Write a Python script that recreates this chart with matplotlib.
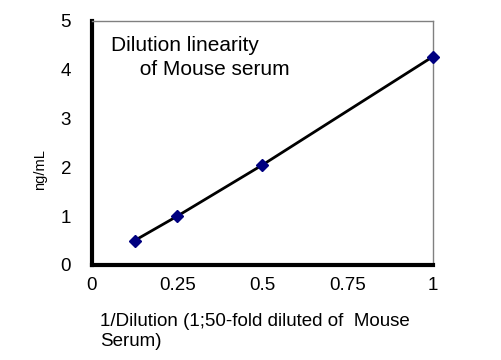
import matplotlib.pyplot as plt

plt.rcParams['font.family'] = ['Liberation Sans', 'DejaVu Sans']

dilution = [0.125, 0.25, 0.5, 1.0]
conc = [0.5, 1.0, 2.05, 4.27]
xticks = [0, 0.25, 0.5, 0.75, 1]
xtick_labels = ['0', '0.25', '0.5', '0.75', '1']
yticks = [0, 1, 2, 3, 4, 5]

fig = plt.figure(figsize=(5.01, 3.6), dpi=100)
ax = fig.add_axes([0.1836, 0.264, 0.6806, 0.6778])

ax.plot(dilution, conc, color='black', lw=2, marker='D', ms=6,
        mfc='#000080', mec='#000080', zorder=3, clip_on=False)

ax.set_xlim(0, 1)
ax.set_ylim(0, 5)
ax.set_xticks(xticks)
ax.set_xticklabels(xtick_labels)
ax.set_yticks(yticks)
ax.tick_params(length=0, labelsize=13.5, colors='black')
ax.tick_params(axis='x', pad=9)
ax.tick_params(axis='y', pad=15)

for s in ['top', 'right']:
    ax.spines[s].set_color('#808080')
    ax.spines[s].set_linewidth(1)
for s in ['left', 'bottom']:
    ax.spines[s].set_color('black')
    ax.spines[s].set_linewidth(3)

ax.text(0.055, 0.94, 'Dilution linearity\n     of Mouse serum', transform=ax.transAxes,
        fontsize=15, va='top', ha='left', linespacing=1.35)

fig.text(0.08, 0.53, 'ng/mL', rotation=90, fontsize=10.5, va='center', ha='center')
fig.text(0.2, 0.13, '1/Dilution (1;50-fold diluted of  Mouse\nSerum)',
         fontsize=13.5, va='top', ha='left', linespacing=1.25)

fig.savefig('out.png', dpi=100)
